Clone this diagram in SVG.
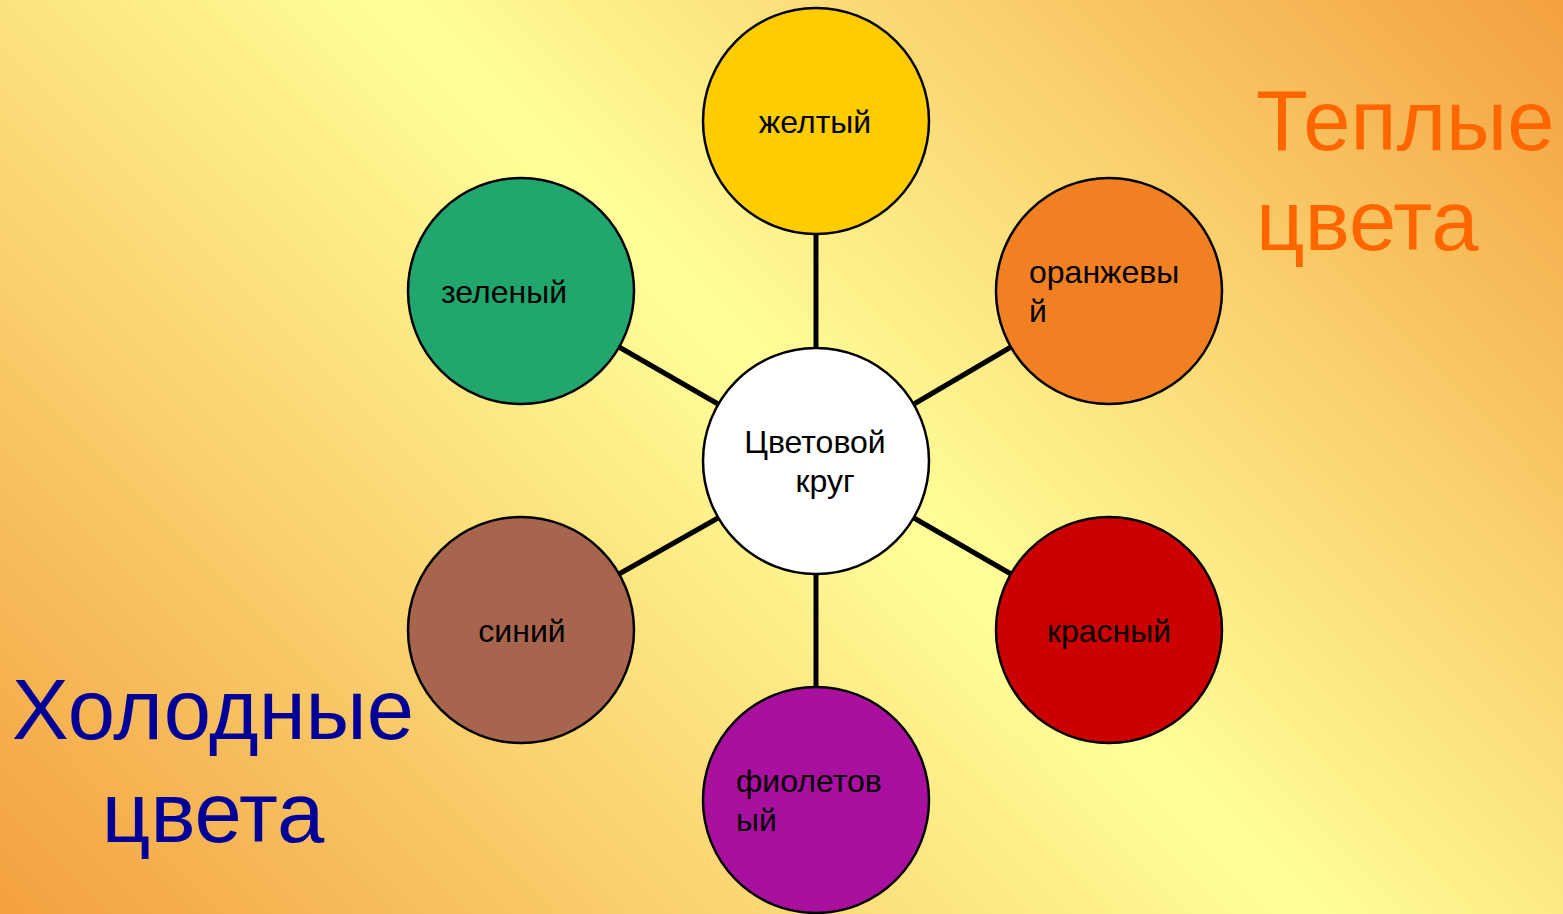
<svg xmlns="http://www.w3.org/2000/svg" width="1563" height="914" viewBox="0 0 1563 914">
<defs>
<linearGradient id="bg" gradientUnits="userSpaceOnUse" x1="0" y1="914" x2="1238" y2="-324">
<stop offset="0" stop-color="#f4a040"/>
<stop offset="0.527" stop-color="#ffff99"/>
<stop offset="1" stop-color="#f4a040"/>
</linearGradient>
<style>
.n{stroke:#000;stroke-width:2.5}
.t{font-family:"Liberation Sans",Arial,sans-serif;font-size:32px;fill:#000}
.c line{stroke:#000;stroke-width:5}
.big{font-family:"Liberation Sans",Arial,sans-serif;font-size:85px}
</style>
</defs>
<rect width="1563" height="914" fill="url(#bg)"/>
<g class="c" id="connectors">
<line x1="816" y1="348" x2="816" y2="234"/>
<line x1="816" y1="574" x2="816" y2="687"/>
<line x1="718" y1="404" x2="619" y2="347"/>
<line x1="914" y1="404" x2="1011" y2="347"/>
<line x1="718" y1="518" x2="619" y2="574"/>
<line x1="914" y1="518" x2="1011" y2="574"/>
</g>
<g id="center"><circle class="n" cx="816" cy="461" r="113" fill="#ffffff"/>
<text class="t" x="815" y="453" text-anchor="middle">Цветовой</text>
<text class="t" x="825" y="492" text-anchor="middle">круг</text></g>
<g id="yellow"><circle class="n" cx="816" cy="121" r="113" fill="#ffcc00"/>
<text class="t" x="815" y="133" text-anchor="middle">желтый</text></g>
<g id="green"><circle class="n" cx="521" cy="291" r="113" fill="#21a66e"/>
<text class="t" x="504" y="303" text-anchor="middle">зеленый</text></g>
<g id="orange"><circle class="n" cx="1109" cy="291" r="113" fill="#f08022"/>
<text class="t" x="1029" y="283">оранжевы</text>
<text class="t" x="1029" y="322">й</text></g>
<g id="brown"><circle class="n" cx="521" cy="630" r="113" fill="#a6654c"/>
<text class="t" x="522" y="642" text-anchor="middle">синий</text></g>
<g id="red"><circle class="n" cx="1109" cy="630" r="113" fill="#cc0000"/>
<text class="t" x="1109" y="642" text-anchor="middle">красный</text></g>
<g id="purple"><circle class="n" cx="816" cy="800" r="113" fill="#aa10a0"/>
<text class="t" x="736" y="792">фиолетов</text>
<text class="t" x="736" y="831">ый</text></g>
<g id="warm"><text class="big" x="1256" y="150" fill="#ff6600">Теплые</text>
<text class="big" x="1256" y="250" fill="#ff6600">цвета</text></g>
<g id="cold"><text class="big" x="213" y="739" fill="#000099" text-anchor="middle">Холодные</text>
<text class="big" x="213" y="842" fill="#000099" text-anchor="middle">цвета</text></g>
</svg>
